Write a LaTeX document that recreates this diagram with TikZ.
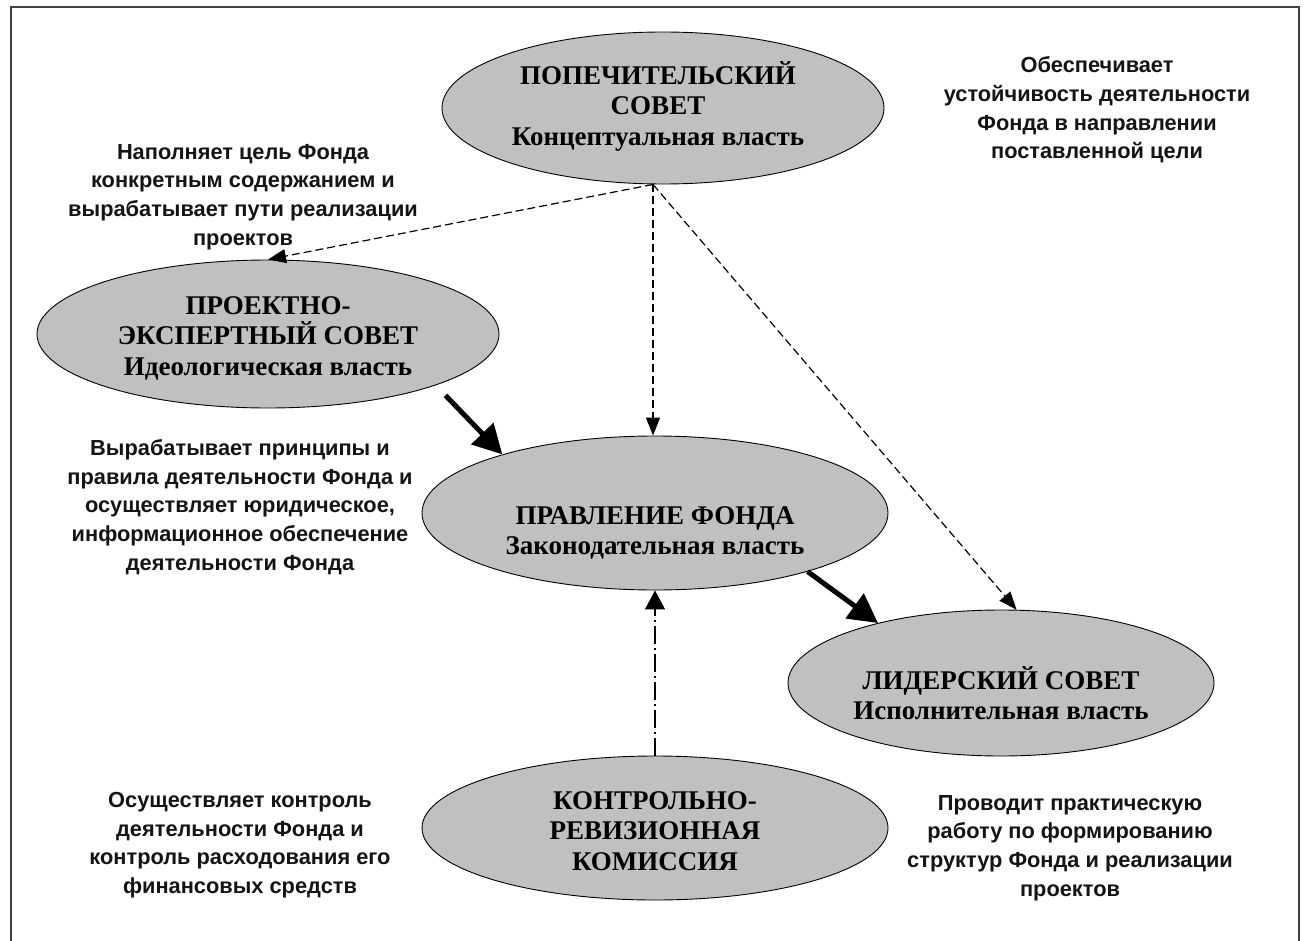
\documentclass[tikz,border=0pt]{standalone}
\usepackage{fontspec}
\setmainfont{Liberation Serif}
\newfontfamily\annfont{Liberation Sans}
\usetikzlibrary{shapes.geometric,arrows.meta}
\definecolor{ovalgray}{HTML}{C0C0C0}
\begin{document}
\begin{tikzpicture}[x=1pt,y=-1pt,
  oval/.style={ellipse,draw=black,line width=0.9pt,fill=ovalgray,inner sep=0pt},
  ovaltext/.style={align=center,font=\fontsize{27}{30.5}\selectfont\bfseries},
  note/.style={align=center,font=\annfont\fontsize{21.8}{28.7}\selectfont\bfseries,text=black!92},
  dasharrow/.style={line width=1.2pt,dash pattern=on 8pt off 4pt,-{Triangle[length=18pt,width=14pt]}},
  bigarrow/.style={line width=5pt,-{Triangle[length=29pt,width=30pt]}},
  ctrlarrow/.style={line width=1.2pt,dash pattern=on 18pt off 4pt on 2pt off 4pt,-{Triangle[length=19pt,width=20pt]}}]
\useasboundingbox (0,0) rectangle (1308,941);
\fill[white] (0,0) rectangle (1308,941);
\draw[line width=1.5pt,black!75] (11,941) -- (11,7) -- (1299,7) -- (1299,941);

% ovals
\node[oval,minimum width=442pt,minimum height=152pt] (top) at (663,108) {};
\node[oval,minimum width=462pt,minimum height=148pt] (pe) at (268,334) {};
\node[oval,minimum width=466pt,minimum height=154pt] (pr) at (655,513) {};
\node[oval,minimum width=426pt,minimum height=146pt] (ld) at (1001,683) {};
\node[oval,minimum width=466pt,minimum height=144pt] (kr) at (655,828) {};

\node[ovaltext] (topt) at (658,106) {ПОПЕЧИТЕЛЬСКИЙ\\СОВЕТ\\Концептуальная власть};
\node[ovaltext] (pet) at (268,338) {ПРОЕКТНО-\\ЭКСПЕРТНЫЙ СОВЕТ\\Идеологическая власть};
\node[ovaltext] (prt) at (655,533) {ПРАВЛЕНИЕ ФОНДА\\Законодательная власть};
\node[ovaltext] (ldt) at (1001,693) {ЛИДЕРСКИЙ СОВЕТ\\Исполнительная власть};
\node[ovaltext] (krt) at (655,831) {КОНТРОЛЬНО-\\РЕВИЗИОННАЯ\\КОМИССИЯ};

% notes
\node[note] (n1) at (243,197) {Наполняет цель Фонда\\конкретным содержанием и\\вырабатывает пути реализации\\проектов};
\node[note] (n2) at (1097,110) {Обеспечивает\\устойчивость деятельности\\Фонда в направлении\\поставленной цели};
\node[note] (n3) at (240,507) {Вырабатывает принципы и\\правила деятельности Фонда и\\осуществляет юридическое,\\информационное обеспечение\\деятельности Фонда};
\node[note] (n4) at (240,845) {Осуществляет контроль\\деятельности Фонда и\\контроль расходования его\\финансовых средств};
\node[note] (n5) at (1070,848) {Проводит практическую\\работу по формированию\\структур Фонда и реализации\\проектов};

% connectors
\coordinate (src) at ([xshift=-10pt]top.south);
\draw[dasharrow] (src) -- (pe.north);
\draw[dasharrow] (src) -- (src |- pr.north);
\draw[dasharrow] (src) -- (ld.78);
\draw[bigarrow,shorten <=14pt] (pe.-17.7) -- (pr.159);
\draw[bigarrow] (pr.-21) -- (ld.154);
\draw[ctrlarrow] (kr.north) -- (pr.south);
\end{tikzpicture}
\end{document}
